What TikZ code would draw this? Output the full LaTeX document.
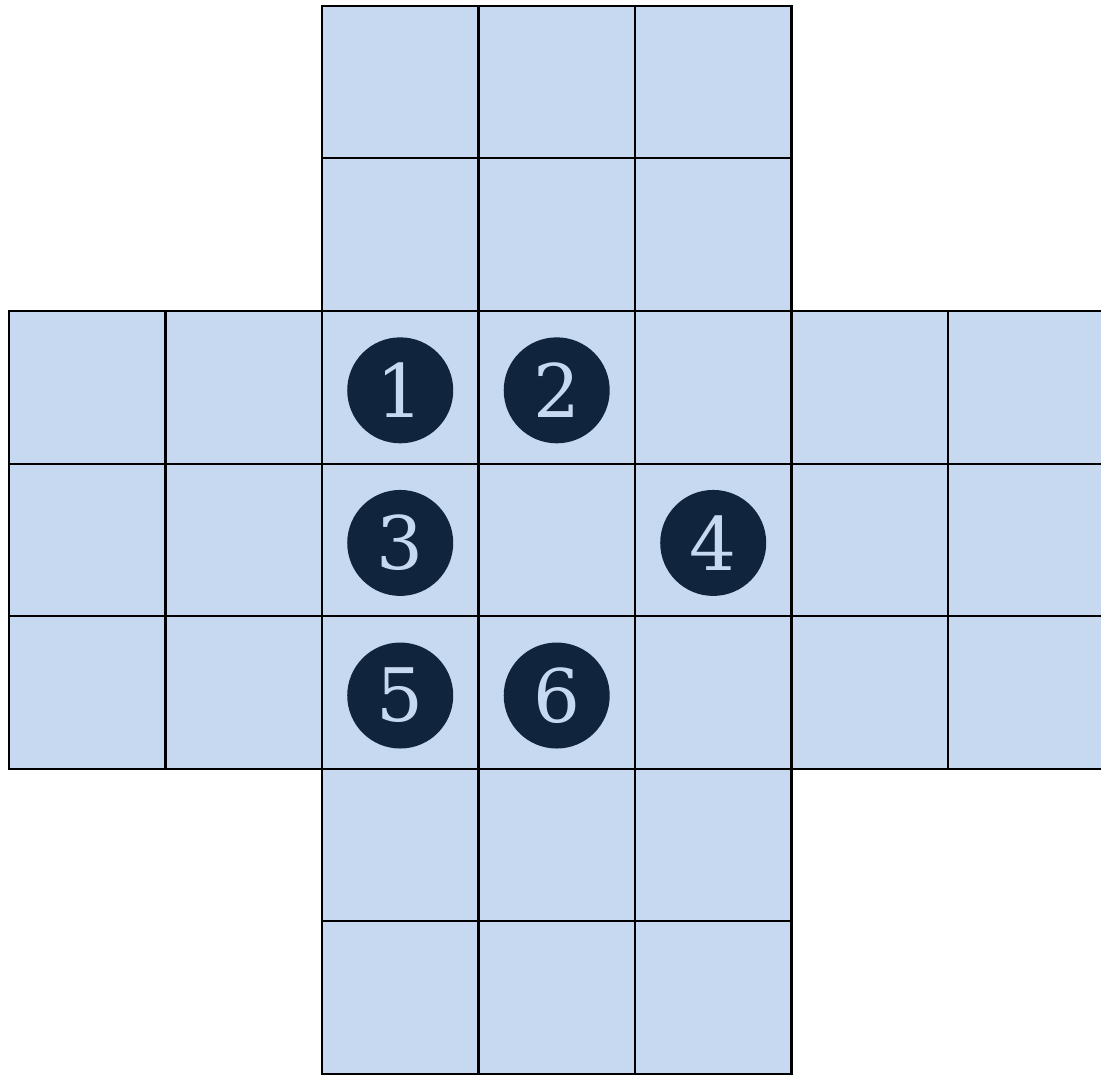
\documentclass[tikz,border=0pt]{standalone}
\usepackage{fontspec}
\setmainfont{DejaVu Serif}
\definecolor{casilla}{HTML}{C6D9F0}
\definecolor{ficha}{HTML}{10243E}
\tikzset{
    celda/.style={fill=casilla, draw=black, line width=0.6pt},
    pieza/.style={circle, fill=ficha, text=casilla, minimum size=1.06cm, inner sep=0pt,
        font=\fontsize{21}{21}\selectfont}
}
\begin{document}
\begin{tikzpicture}[x=1.565cm, y=1.526cm]
        \useasboundingbox (-0.0575,-0.0066) rectangle (6.978,7.038);

        % Brazo vertical de la cruz
        \foreach \i in {2,3,4}
            \foreach \j in {0,...,6}
                \draw[celda] (\i,\j) rectangle ++(1,1);

        % Brazo horizontal de la cruz
        \foreach \i in {0,1,5,6}
            \foreach \j in {2,3,4}
                \draw[celda] (\i,\j) rectangle ++(1,1);

        % Fichas numeradas
        \node[pieza] (f1) at (2.5,4.48) {1};
        \node[pieza] (f2) at (3.5,4.48) {2};
        \node[pieza] (f3) at (2.5,3.48) {3};
        \node[pieza] (f4) at (4.5,3.48) {4};
        \node[pieza] (f5) at (2.5,2.48) {5};
        \node[pieza] (f6) at (3.5,2.48) {6};
    \end{tikzpicture}
\end{document}
